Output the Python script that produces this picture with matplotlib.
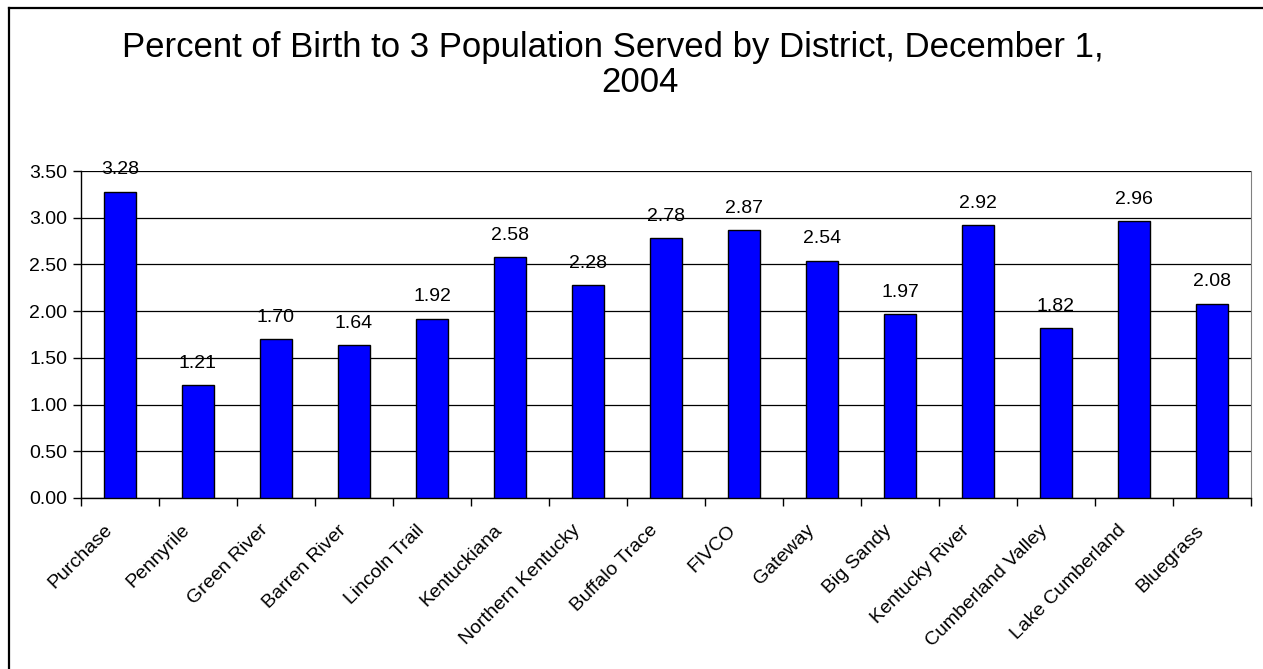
import numpy as np
import matplotlib.pyplot as plt
from matplotlib.lines import Line2D

plt.rcParams['font.family'] = ['Liberation Sans', 'DejaVu Sans']

#### data ######################################################################

districts = ['Purchase', 'Pennyrile', 'Green River', 'Barren River', 'Lincoln Trail',
             'Kentuckiana', 'Northern Kentucky', 'Buffalo Trace', 'FIVCO', 'Gateway',
             'Big Sandy', 'Kentucky River', 'Cumberland Valley', 'Lake Cumberland',
             'Bluegrass']
pct = [3.28, 1.21, 1.70, 1.64, 1.92, 2.58, 2.28, 2.78, 2.87, 2.54,
       1.97, 2.92, 1.82, 2.96, 2.08]
yticks = [0.0, 0.5, 1.0, 1.5, 2.0, 2.5, 3.0, 3.5]

#### plot ######################################################################

W, H = 1263, 669
fs = 14
fig = plt.figure(figsize=(W/100, H/100), dpi=100)
ax = fig.add_axes([81/W, 1-498/H, (1251-81)/W, (498-171)/H])

x = np.arange(len(districts))
ax.bar(x, pct, width=0.4, color='#0000FF', edgecolor='black', lw=1, zorder=3)
for xi, v in zip(x, pct):
    ax.annotate('%.2f' % v, xy=(xi, v), xytext=(0, 9.5), textcoords='offset points',
                ha='center', va='bottom', fontsize=fs, zorder=4)

ax.set_xlim(-0.5, len(districts)-0.5)
ax.set_ylim(0, 3.5)
ax.set_yticks(yticks)
ax.set_yticklabels(['%.2f' % t for t in yticks], fontsize=fs)
ax.yaxis.grid(True, color='black', lw=0.9, zorder=0)
ax.tick_params(axis='y', direction='out', length=6, width=1, pad=4)

# category ticks at boundaries, labels placed by hand at centers
ax.set_xticks(np.arange(len(districts)+1)-0.5)
ax.set_xticklabels([])
ax.tick_params(axis='x', direction='out', length=6, width=1)
for xi, name in zip(x, districts):
    ax.annotate(name, xy=(xi, 0), xycoords=('data', 'axes fraction'),
                xytext=(-12, -17), textcoords='offset points', rotation=45,
                ha='right', va='top', rotation_mode='anchor', fontsize=fs)

ax.spines['top'].set_visible(False)
ax.spines['right'].set_color('#808080')
ax.spines['left'].set_linewidth(1)
ax.spines['bottom'].set_linewidth(1)

fig.text(613/W, 1-47/H, 'Percent of Birth to 3 Population Served by District, December 1,',
         ha='center', va='center', fontsize=25)
fig.text(640/W, 1-83/H, '2004', ha='center', va='center', fontsize=25)

# outer chart border (only top and left visible in frame)
fig.add_artist(Line2D([8.5/W, 8.5/W], [0, 1-7.5/H], transform=fig.transFigure, color='black', lw=1.6))
fig.add_artist(Line2D([8.5/W, 1], [1-7.5/H, 1-7.5/H], transform=fig.transFigure, color='black', lw=1.6))

fig.savefig('out.png', dpi=100)
